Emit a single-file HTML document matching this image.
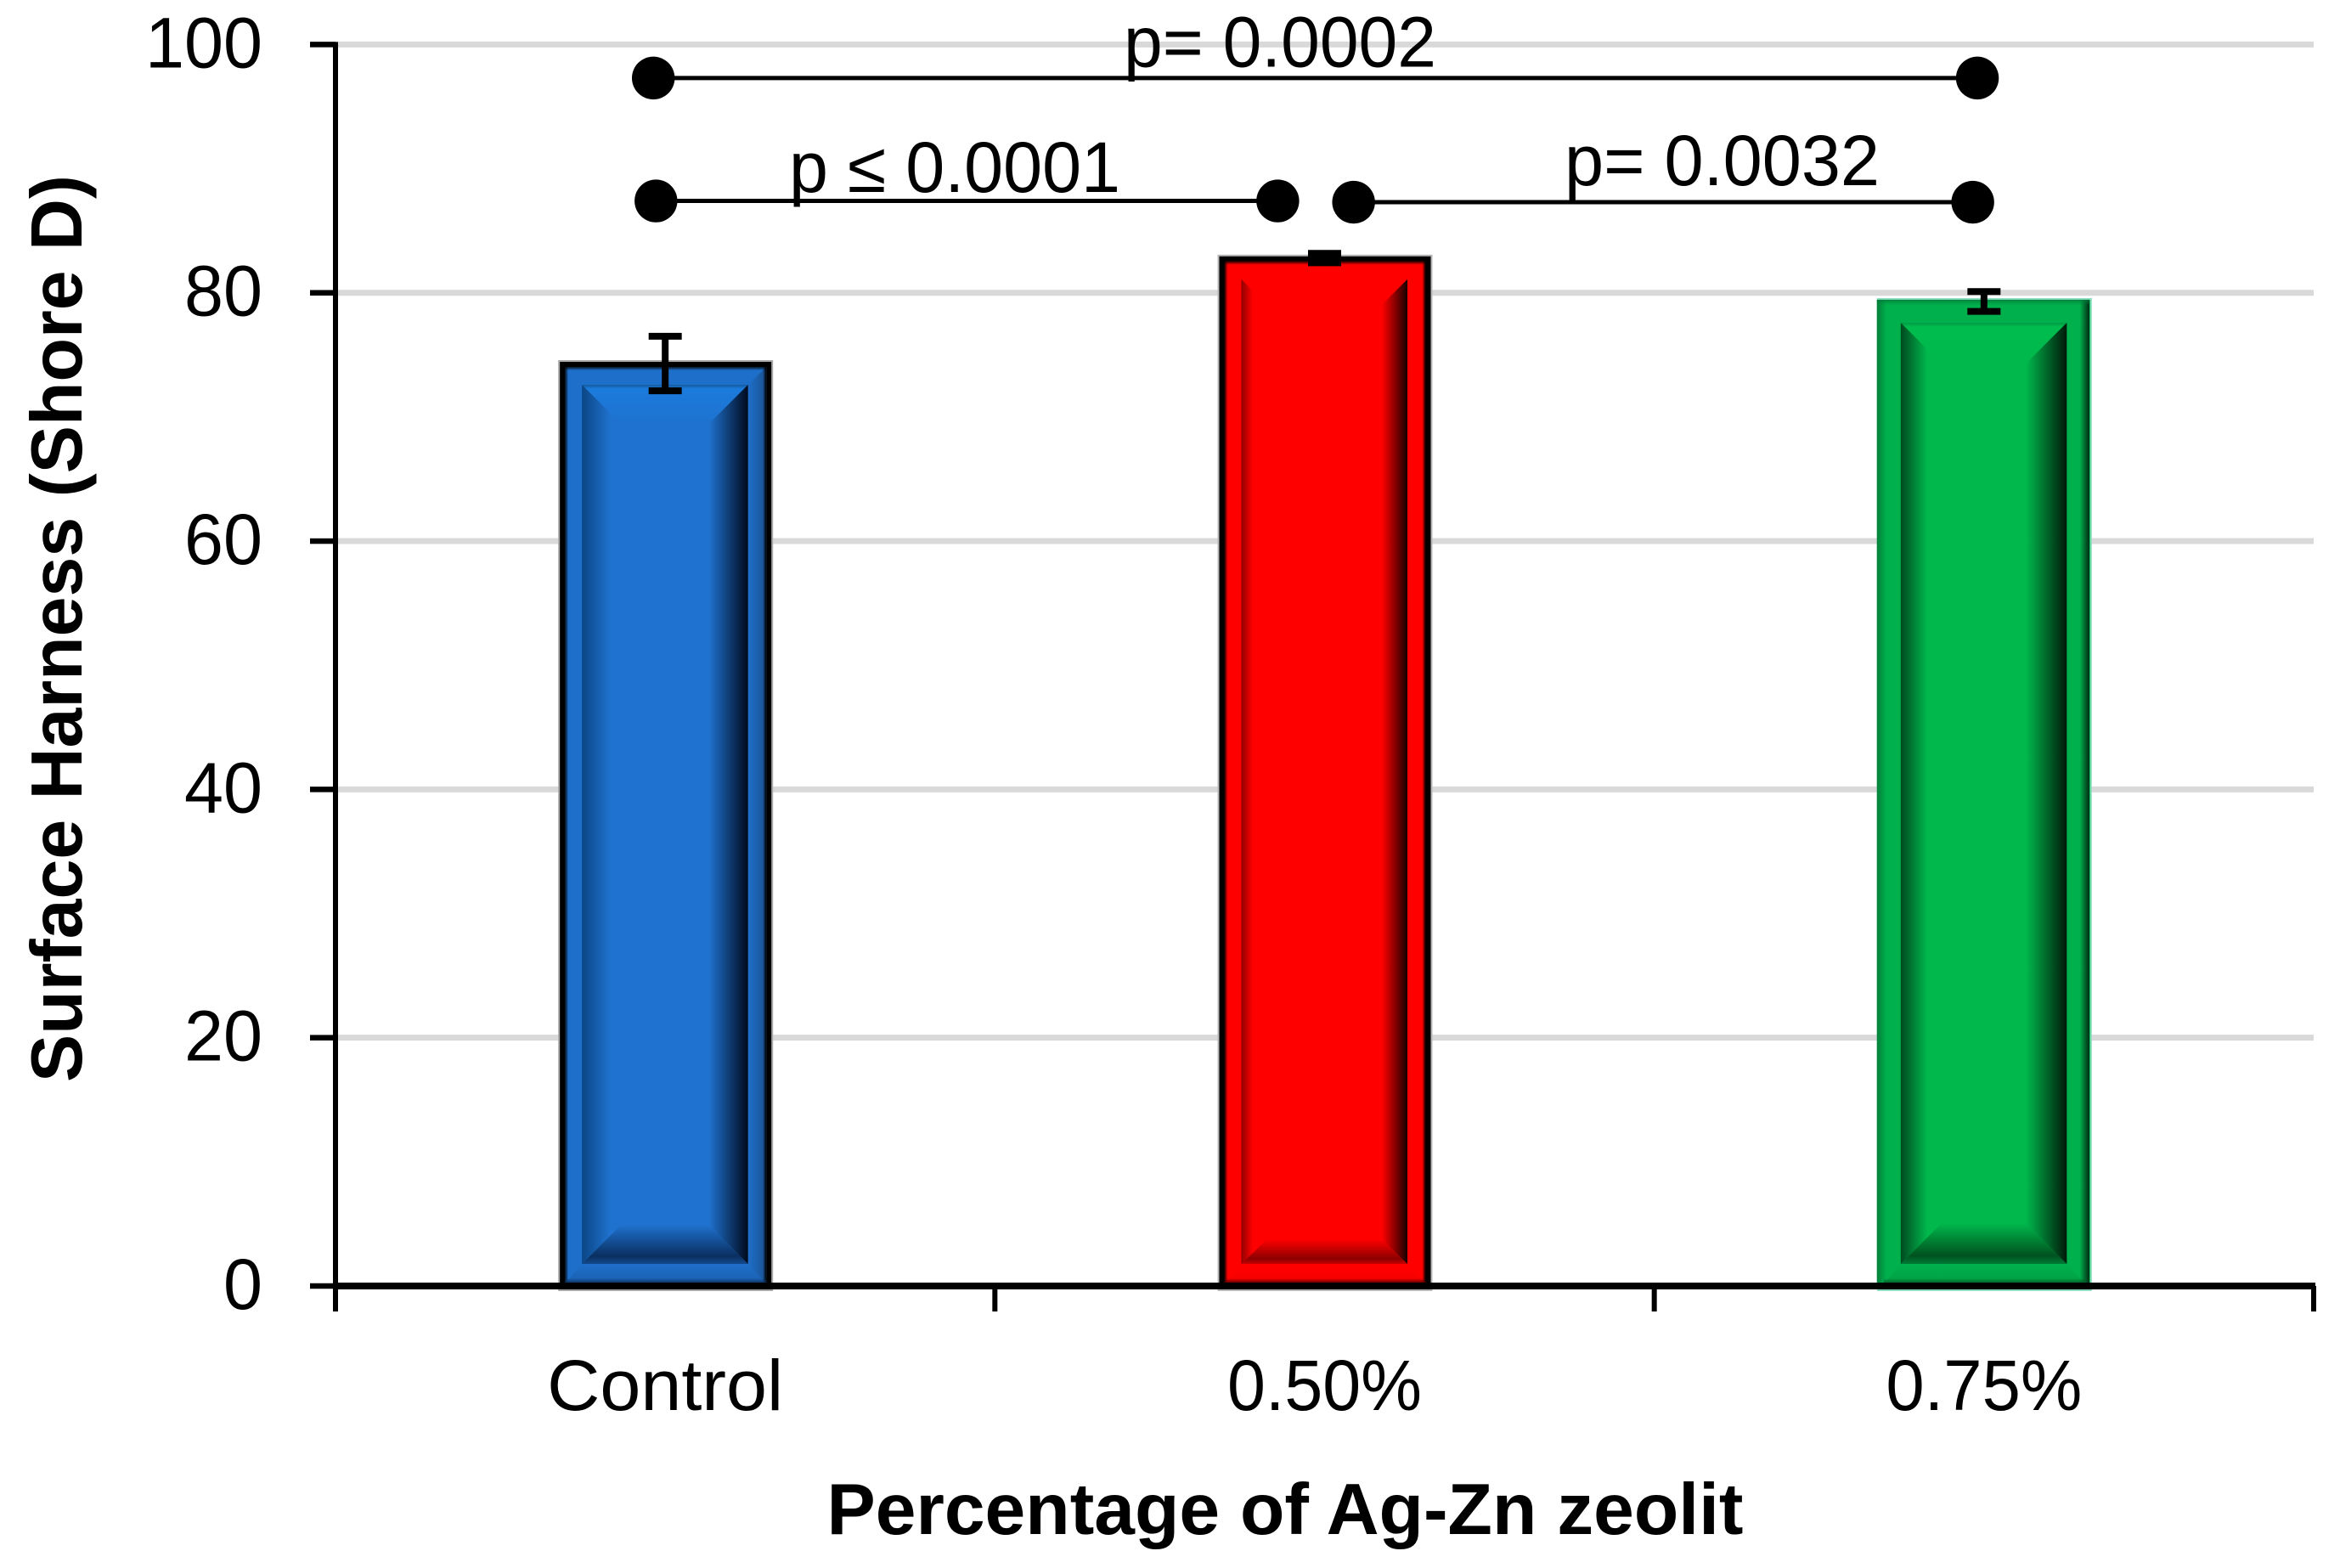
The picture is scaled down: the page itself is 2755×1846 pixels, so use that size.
<!DOCTYPE html>
<html lang="en">
<head>
<meta charset="utf-8">
<title>Surface hardness by percentage of Ag-Zn zeolit</title>
<style>
html,body{margin:0;padding:0;background:#fff;}
svg{display:block;}
text{font-family:"Liberation Sans",sans-serif;fill:#000;}
</style>
</head>
<body>
<svg id="chart" xmlns="http://www.w3.org/2000/svg" width="2755" height="1846" viewBox="0 0 2755 1846">
  <rect x="0" y="0" width="2755" height="1846" fill="#ffffff"/>
  <defs id="defs"></defs>
  <g id="grid"></g>
  <g id="bars"></g>
  <g id="axes"></g>
  <g id="errors"></g>
  <g id="brackets"></g>
  <g id="labels"></g>
  <text transform="translate(96,740) rotate(-90)" text-anchor="middle" font-size="85" font-weight="700" textLength="1068" lengthAdjust="spacingAndGlyphs">Surface Harness (Shore D)</text>
  <text x="1513" y="1806" text-anchor="middle" font-size="85" font-weight="700" textLength="1079" lengthAdjust="spacingAndGlyphs">Percentage of Ag-Zn zeolit</text>
</svg>
<script>
// ---- chart data ----
const categories = ['Control', '0.50%', '0.75%'];
const hardness = [74.3, 82.8, 79.3];
const errors = [2.2, 0.38, 0.8];
const yTicks = [0, 20, 40, 60, 80, 100];
const comparisonLabels = ['p= 0.0002', 'p \u2264 0.0001', 'p= 0.0032'];
const comparisonValues = [97.3, 87.4, 87.3];
const comparisonStarts = [-0.018, -0.014, 1.044];
const comparisonEnds = [1.99, 0.929, 1.983];

// ---- scales ----
const AX_X0 = 395, AX_X1 = 2724, AX_Y0 = 1514, AX_Y100 = 52.4;
const Y_MAX = 100;
const bandWidth = (AX_X1 - AX_X0) / categories.length;
function yScale(v){ return AX_Y0 - (AX_Y0 - AX_Y100) * v / Y_MAX; }
function xBand(pos){ return AX_X0 + bandWidth * (pos + 0.5); }

// ---- styles ----
const styles = [
  {edge:'#a8a8a8', border:'#000000', frame:'#1e6fca', frameRight:'#1a5292', frameBottom:'#1a5fae', base:'#1f72cf', top:'#1b7bdc', strip:'#155a9e', leftDark:'#0b4585', rightDark:'#000a1e', bottomDark:'#0a2f60', bottomEnd:'#124a8c', edgeIn:0, edgeW:11, edgeL:'#000000', edgeR:'#000000', edgeB:'#0c2f5c', Gm:46, leftFade:0.72, Bm:46},
  {edge:'#b8b8b8', border:'#000000', frame:'#ff0000', frameRight:'#ff0000', frameBottom:'#f60000', base:'#ff0000', top:'#ff0000', strip:'#ff0000', leftDark:'#900000', rightDark:'#180000', bottomDark:'#8c0000', bottomEnd:'#c80000', edgeIn:0, edgeW:11, edgeL:'#000000', edgeR:'#000000', edgeB:'#500000', Gm:30, leftFade:0.45, Bm:29},
  {edge:'#8fdcc0', border:'#00b04c', frame:'#00b04c', frameRight:'#00b04c', frameBottom:'#00a044', base:'#00b84c', top:'#00bc4e', strip:'#009a44', leftDark:'#004a20', rightDark:'#001a0a', bottomDark:'#00521f', bottomEnd:'#007a36', edgeIn:2, edgeW:11, edgeL:'#007a38', edgeR:'#002a14', edgeB:'#005a28', Gm:48, leftFade:0.65, Bm:48}
];

const NS = 'http://www.w3.org/2000/svg';
function make(tag, parent, attrs){
  const el = document.createElementNS(NS, tag);
  for (const k in attrs) el.setAttribute(k, attrs[k]);
  parent.appendChild(el);
  return el;
}
function pts(a){ return a.map(p => p[0] + ',' + p[1]).join(' '); }
const defs = document.getElementById('defs');
function gradient(id, x2, y2, stops){
  const g = make('linearGradient', defs, {id:id, x1:0, y1:0, x2:x2, y2:y2});
  stops.forEach(s => {
    const st = make('stop', g, {offset:s[0], 'stop-color':s[1]});
    if (s[2] !== undefined) st.setAttribute('stop-opacity', s[2]);
  });
}

// gridlines
const gridG = document.getElementById('grid');
yTicks.forEach(t => {
  if (t === 0) return;
  const el = make('line', gridG, {x1:AX_X0, x2:AX_X1, y1:yScale(t), y2:yScale(t), stroke:'#d9d9d9', 'stroke-width':7});
  
  
});

// bars
const barsG = document.getElementById('bars');
const BAR_W = 253, HALF_BORDER = 4, BAR_BOTTOM = 1520;
categories.forEach((c, i) => {
  const s = styles[i];
  const cx = xBand(i) + 0.5;
  const x0 = cx - BAR_W / 2, x1 = cx + BAR_W / 2;
  const y0 = yScale(hardness[i]) - HALF_BORDER;
  const bar = make('g', barsG, {});
  
  

  gradient('fr' + i, 1, 0, [[0, s.frame], [1, s.frameRight]]);
  gradient('fb' + i, 0, 1, [[0, s.frame], [1, s.frameBottom]]);
  gradient('il' + i, 1, 0, [[0, s.leftDark], [s.leftFade, s.base]]);
  gradient('ir' + i, 1, 0, [[0, s.base], [1, s.rightDark]]);
  gradient('ib' + i, 0, 1, [[0, s.base], [0.8, s.bottomDark], [1, s.bottomEnd]]);
  gradient('it' + i, 0, 1, [[0, s.strip], [0.1, s.top], [1, s.base]]);
  gradient('el' + i, 1, 0, [[0, s.edgeL, 0.9], [1, s.edgeL, 0]]);
  gradient('er' + i, 1, 0, [[0, s.edgeR, 0], [1, s.edgeR, 1]]);
  gradient('et' + i, 0, 1, [[0, s.edgeL, 0.8], [1, s.edgeL, 0]]);
  gradient('eb' + i, 0, 1, [[0, s.edgeB, 0], [1, s.edgeB, 1]]);

  make('rect', bar, {x:x0, y:y0, width:BAR_W, height:BAR_BOTTOM - y0, fill:s.edge});
  make('rect', bar, {x:x0 + 2, y:y0 + 2, width:BAR_W - 4, height:AX_Y0 - y0 - 2, fill:s.border});
  const fx0 = x0 + 8, fx1 = x1 - 8, fy0 = y0 + 8, fy1 = AX_Y0 - 3;
  if (s.edgeIn > 0) {
    // borderless bar: the fill runs out to the left edge, leaving the halo only at right and below
    make('rect', bar, {x:x0, y:y0 + 2, width:BAR_W - 3, height:AX_Y0 - y0 - 2, fill:s.frame});
  }
  make('rect', bar, {x:fx0, y:fy0, width:fx1 - fx0, height:fy1 - fy0, fill:s.frame});

  const ix0 = x0 + 28, ix1 = x1 - 29.5, iy0 = y0 + 29, iy1 = AX_Y0 - 26;
  // frame bevel faces
  make('polygon', bar, {points:pts([[ix1,iy0],[fx1,fy0],[fx1,fy1],[ix1,iy1]]), fill:'url(#fr' + i + ')'});
  make('polygon', bar, {points:pts([[ix0,iy1],[ix1,iy1],[fx1,fy1],[fx0,fy1]]), fill:'url(#fb' + i + ')'});

  // soft dark rim around the frame
  if (s.edgeIn > 0) {
    make('rect', bar, {x:x0, y:y0 + 2, width:s.edgeW, height:AX_Y0 - y0 - 2, fill:'url(#el' + i + ')'});
    make('rect', bar, {x:x1 - 3 - s.edgeW, y:y0 + 2, width:s.edgeW, height:AX_Y0 - y0 - 2, fill:'url(#er' + i + ')'});
    make('rect', bar, {x:x0, y:y0 + 2, width:BAR_W - 3, height:6, fill:'url(#et' + i + ')'});
  } else {
    make('rect', bar, {x:fx0, y:fy0, width:4, height:fy1 - fy0, fill:'url(#el' + i + ')'});
    make('rect', bar, {x:fx1 - 4, y:fy0, width:4, height:fy1 - fy0, fill:'url(#er' + i + ')'});
    make('rect', bar, {x:fx0, y:fy0, width:fx1 - fx0, height:4, fill:'url(#et' + i + ')'});
  }
  make('rect', bar, {x:fx0, y:fy1 - 6, width:fx1 - fx0, height:6, fill:'url(#eb' + i + ')'});

  // inner panel
  make('rect', bar, {x:ix0, y:iy0, width:ix1 - ix0, height:iy1 - iy0, fill:s.base});
  const G = s.Gm, B = s.Bm;
  make('polygon', bar, {points:pts([[ix0,iy0],[ix1,iy0],[ix1 - G,iy0 + G],[ix0 + G,iy0 + G]]), fill:'url(#it' + i + ')'});
  make('polygon', bar, {points:pts([[ix0,iy1],[ix0 + G,iy1 - B],[ix1 - G,iy1 - B],[ix1,iy1]]), fill:'url(#ib' + i + ')'});
  make('polygon', bar, {points:pts([[ix0,iy0],[ix0 + G,iy0 + G],[ix0 + G,iy1 - B],[ix0,iy1]]), fill:'url(#il' + i + ')'});
  make('polygon', bar, {points:pts([[ix1,iy0],[ix1 - G,iy0 + G],[ix1 - G,iy1 - B],[ix1,iy1]]), fill:'url(#ir' + i + ')'});
});

// axes
const axesG = document.getElementById('axes');
const yLine = make('rect', axesG, {x:AX_X0 - 3, y:yScale(Y_MAX) - 3, width:6, height:1544 - yScale(Y_MAX) + 3, fill:'#000'});


const xLine = make('rect', axesG, {x:AX_X0 - 3, y:AX_Y0 - 4, width:AX_X1 - AX_X0 + 5, height:8, fill:'#000'});


yTicks.forEach(t => {
  const el = make('rect', axesG, {x:365, y:yScale(t) - 3.25, width:AX_X0 - 365, height:6.5, fill:'#000'});
  
  
});
for (let i = 1; i <= categories.length; i++) {
  const el = make('rect', axesG, {x:AX_X0 + bandWidth * i - 3, y:AX_Y0, width:6, height:30, fill:'#000'});
  
  
}

// error bars
const errG = document.getElementById('errors');
categories.forEach((c, i) => {
  const cx = xBand(i);
  const hi = yScale(hardness[i] + errors[i]), lo = yScale(hardness[i] - errors[i]);
  const g = make('g', errG, {stroke:'#000', fill:'none'});
  
  
  make('line', g, {x1:cx, x2:cx, y1:hi, y2:lo, 'stroke-width':8});
  make('line', g, {x1:cx - 19.5, x2:cx + 19.5, y1:hi, y2:hi, 'stroke-width':8});
  make('line', g, {x1:cx - 19.5, x2:cx + 19.5, y1:lo, y2:lo, 'stroke-width':8});
});

// significance brackets
const brG = document.getElementById('brackets');
const bracketLabelX = [1323, 929, 1842];
const bracketLabelWidth = [368, 390, 371];
const bracketLabelBase = [78.5, 226, 218];
comparisonLabels.forEach((label, i) => {
  const y = yScale(comparisonValues[i]);
  const xa = xBand(comparisonStarts[i]), xb = xBand(comparisonEnds[i]);
  const g = make('g', brG, {});
  
  
  make('line', g, {x1:xa, x2:xb, y1:y, y2:y, stroke:'#000', 'stroke-width':5});
  make('circle', g, {cx:xa, cy:y, r:25.2, fill:'#000'});
  make('circle', g, {cx:xb, cy:y, r:25.2, fill:'#000'});
  const t = make('text', g, {x:bracketLabelX[i], y:bracketLabelBase[i], 'font-size':84, textLength:bracketLabelWidth[i], lengthAdjust:'spacingAndGlyphs'});
  
  
  t.textContent = label;
});

// tick labels
const labG = document.getElementById('labels');
yTicks.forEach(t => {
  const s = String(t);
  const w = s.length * 46;
  const el = make('text', labG, {x:309 - w, y:yScale(t) + 27, 'font-size':84, textLength:w, lengthAdjust:'spacingAndGlyphs'});
  
  
  el.textContent = s;
});
const catWidths = [278, 229, 231];
categories.forEach((c, i) => {
  const el = make('text', labG, {x:xBand(i) - catWidths[i] / 2, y:1660, 'font-size':84, textLength:catWidths[i], lengthAdjust:'spacingAndGlyphs'});
  
  
  el.textContent = c;
});
</script>
</body>
</html>
